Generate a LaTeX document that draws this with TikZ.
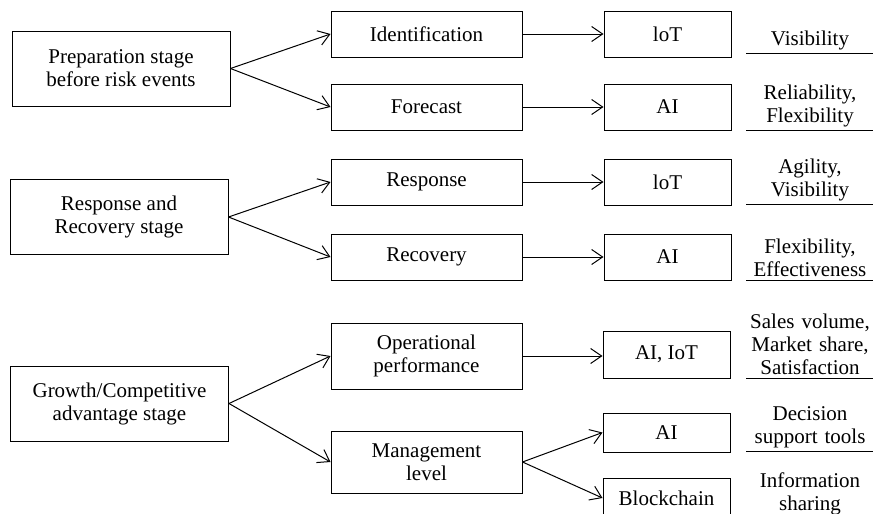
\documentclass[tikz,border=0pt]{standalone}
\usepackage{fontspec}
\setmainfont{Liberation Serif}
\usetikzlibrary{arrows.meta, positioning}

\begin{document}
\begin{tikzpicture}[x=1pt, y=-1pt,
  font=\fontsize{21}{23}\selectfont,
  box/.style={draw, line width=1pt, align=center, inner sep=0pt},
  stage/.style={box, minimum width=218pt, minimum height=75pt},
  task/.style={box, minimum width=191pt, minimum height=46pt},
  tech/.style={box, minimum width=127pt, minimum height=46pt},
  note/.style={text width=127pt, align=center, inner xsep=0pt, inner ysep=3pt,
               anchor=south},
  arr/.style={-{Straight Barb[length=11pt, width=15pt]}, line width=1pt}]
  \useasboundingbox (0,0) rectangle (873,514);

  % stages
  \node[stage] (prep) at (121,68.5) {Preparation stage\\before risk events};
  \node[stage] (resp) at (119,217) {Response and\\Recovery stage};
  \node[stage] (grow) at (119.5,403.5) {Growth/Competitive\\advantage stage};

  % tasks
  \node[task] (ident) at (426.5,34) {Identification};
  \node[task] (fore) at (426.5,107) {Forecast};
  \node[task] (respo) at (426.5,182) {Response};
  \node[task] (recov) at (426.5,257) {Recovery};
  \node[task, minimum height=66pt] (oper) at (426.5,356) {Operational\\performance};
  \node[task, minimum height=62pt] (mgmt) at (426.5,462) {Management\\level};

  % technologies
  \node[tech, right=81pt of ident] (iota) {loT};
  \node[tech, right=81pt of fore] (aia) {AI};
  \node[tech, right=81pt of respo] (iotb) {loT};
  \node[tech, right=81pt of recov] (aib) {AI};
  \node[tech, minimum height=47pt] (aiiot) at (666.5,354.5) {AI, IoT};
  \node[tech, minimum height=39pt] (aic) at (666.5,432.5) {AI};
  \node[tech, minimum height=40pt] (chain) at (666.5,498) {Blockchain};

  % outcomes
  \node[note] (vis) at (810,53) {Visibility};
  \node[note] (rel) at (810,130) {Reliability,\\Flexibility};
  \node[note] (agi) at (810,204) {Agility,\\Visibility};
  \node[note] (flex) at (810,280) {Flexibility,\\Effectiveness};
  \node[note] (sales) at (810,378) {Sales volume,\\Market share,\\Satisfaction};
  \node[note] (dec) at (810,451) {Decision\\support tools};
  \node[note] (info) at (810,518) {Information\\sharing};
  \foreach \n in {vis, rel, agi, flex, sales, dec}
    \draw[line width=1pt] (\n.south west) -- (\n.south east);

  \draw[arr] (prep.east) -- (ident.west);
  \draw[arr] (prep.east) -- (fore.west);
  \draw[arr] (resp.east) -- (respo.west);
  \draw[arr] (resp.east) -- (recov.west);
  \draw[arr] (grow.east) -- (oper.west);
  \draw[arr] (grow.east) -- (mgmt.west);
  \draw[arr] (ident) -- (iota);
  \draw[arr] (fore) -- (aia);
  \draw[arr] (respo) -- (iotb);
  \draw[arr] (recov) -- (aib);
  \draw[arr] (oper.east) -- (aiiot.west |- oper.east);
  \draw[arr] (mgmt.east) -- (aic.west);
  \draw[arr] (mgmt.east) -- (chain.west);
\end{tikzpicture}
\end{document}
